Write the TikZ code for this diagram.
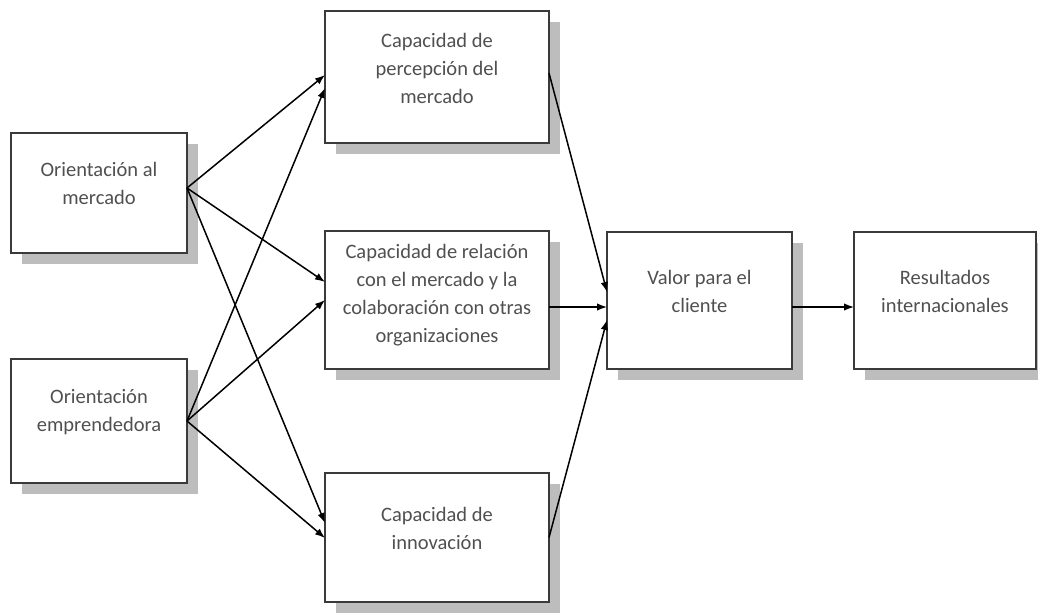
\documentclass[tikz,border=0pt]{standalone}
\usepackage{fontspec}
\setmainfont{Carlito}
\usetikzlibrary{arrows.meta,calc}
\definecolor{boxline}{HTML}{3A3A3A}
\definecolor{shadowgray}{HTML}{BDBDBD}
\definecolor{txtgray}{HTML}{505050}
\tikzset{
  box/.style={draw=boxline, line width=1.3pt, fill=white, inner sep=0pt, outer sep=0pt,
    preaction={fill=shadowgray, draw=none, transform canvas={shift={(11pt,-11pt)}}}},
  lbl/.style={text=txtgray, align=center, font=\fontsize{20.5}{28}\selectfont, inner sep=0pt},
  conn/.style={line width=1.5pt, draw=black, -{Latex[length=10pt,width=7.5pt]}}
}
\begin{document}
\begin{tikzpicture}[x=1pt,y=-1pt]
\useasboundingbox (0,0) rectangle (1038,613);
% boxes
\node[box, minimum width=176pt, minimum height=120pt] (b1) at (99,193) {};
\node[box, minimum width=176pt, minimum height=124pt] (b2) at (99,421) {};
\node[box, minimum width=224pt, minimum height=132pt] (b3) at (437,77) {};
\node[box, minimum width=224pt, minimum height=138pt] (b4) at (437,300) {};
\node[box, minimum width=224pt, minimum height=129pt] (b5) at (437,537.5) {};
\node[box, minimum width=185pt, minimum height=137pt] (v) at (699.5,300.5) {};
\node[box, minimum width=182pt, minimum height=137pt] (r) at (945,300.5) {};
% texts
\node[lbl] (t1) at (99,183) {Orientación al\\mercado};
\node[lbl] (t2) at (99,412) {Orientación\\emprendedora};
\node[lbl] (t3) at (437,68) {Capacidad de\\percepción del\\mercado};
\node[lbl] (t4) at (437,295.5) {Capacidad de relación\\con el mercado y la\\colaboración con otras\\organizaciones};
\node[lbl] (t5) at (437,528) {Capacidad de\\innovación};
\node[lbl] (tv) at (699.5,291) {Valor para el\\cliente};
\node[lbl] (tr) at (945,291) {Resultados\\internacionales};
% connectors
\coordinate (o1) at ([shift={(0,-5)}]b1.east);
\coordinate (o2) at (b2.east);
\draw[conn] (o1) -- ([shift={(0,-2)}]b3.west);
\draw[conn] (o2) -- ([shift={(0,11)}]b3.west);
\draw[conn] (o1) -- ([shift={(0,-18)}]b4.west);
\draw[conn] (o2) -- (b4.west);
\draw[conn] (o1) -- ([shift={(0,-14.5)}]b5.west);
\draw[conn] (o2) -- ([shift={(0,0.5)}]b5.west);
\draw[conn] ([shift={(0,-4)}]b3.east) -- ([shift={(0,-8.5)}]v.west);
\draw[conn] ([shift={(0,7)}]b4.east) -- ([shift={(0,6.5)}]v.west);
\draw[conn] (b5.east) -- ([shift={(0,19.5)}]v.west);
\draw[conn] ([shift={(0,6.5)}]v.east) -- ([shift={(0,6.5)}]r.west);
\end{tikzpicture}
\end{document}
